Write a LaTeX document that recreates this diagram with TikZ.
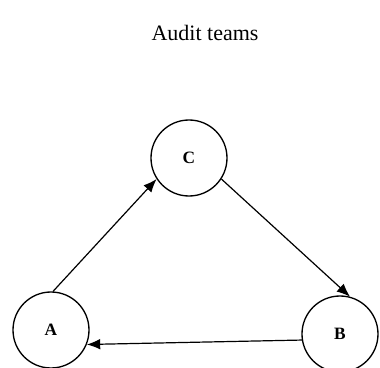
\documentclass[tikz,border=0pt]{standalone}
\usepackage{fontspec}
\setmainfont{Liberation Serif}
\usetikzlibrary{arrows.meta, positioning}

\begin{document}
\begin{tikzpicture}[
						x=0.75pt, y=-0.75pt,
						team/.style = {draw, circle, line width=1pt, minimum size=57pt, inner sep=0pt, font=\bfseries\fontsize{13}{15}\selectfont},
						link/.style = {-{Latex[length=10pt,width=8pt]}, line width=0.9pt}
					]

					\useasboundingbox (0,0) rectangle (380,368);

					\node[font=\fontsize{16.5}{19}\selectfont] (title) at (205,33) {Audit teams};

					\node[team] (C) at (189,158) {C};
					\node[team] (A) at (51,330) {A};
					\node[team] (B) at (340,334) {B};

					\draw[link] (A.87) -- (C.213);
					\draw[link] (C.-33) -- (B.75);
					\draw[link] (B.189) -- (A.-22);
				\end{tikzpicture}
\end{document}
